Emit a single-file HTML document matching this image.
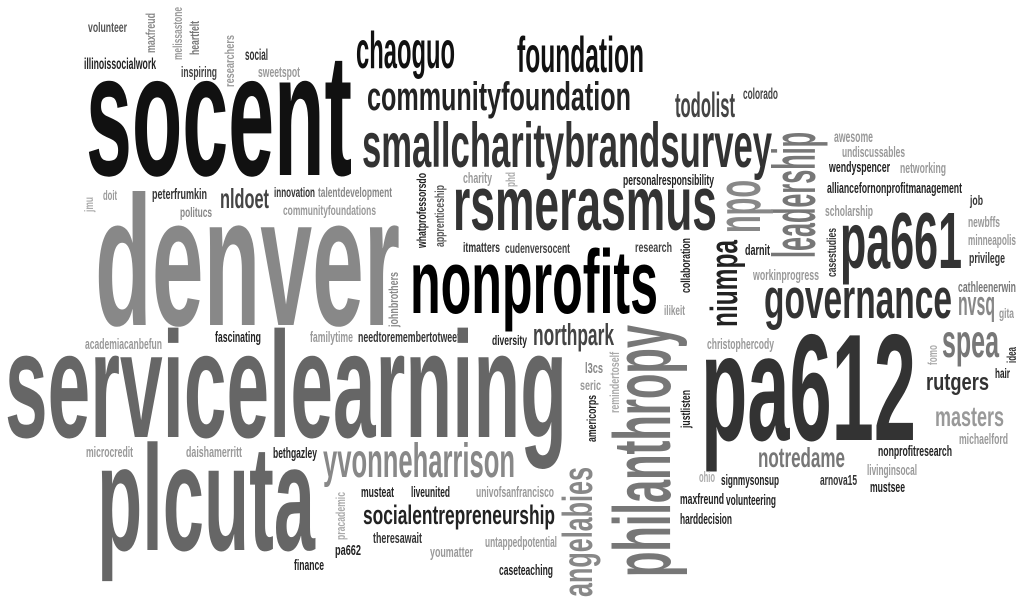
<!DOCTYPE html>
<html><head><meta charset="utf-8"><style>
html,body{margin:0;padding:0;background:#fff;width:1024px;height:607px;overflow:hidden}
svg{display:block}
text{font-family:"Liberation Sans Narrow","Liberation Sans",sans-serif;font-weight:bold}
</style></head><body>
<svg id="cloud" width="1024" height="607" viewBox="0 0 1024 607" xmlns="http://www.w3.org/2000/svg"></svg>
<script>
// word, x, baseline y (rotated: baseline x, start y), length, font size, color, rotation
const words=[
["volunteer",88,32,39,14,"#555",0],
["maxfreud",155,53,40,13,"#888",-90],
["melissastone",182,60,53,13,"#999",-90],
["heartfelt",199,55,34,13,"#777",-90],
["researchers",234,87,52,13,"#999",-90],
["social",245,60,23,16,"#333",0],
["illinoissocialwork",84,69,72,16,"#222",0],
["inspiring",181,77,36,15,"#444",0],
["sweetspot",258,77,42,15,"#999",0],
["socent",86,175,266,175,"#111",0],
["chaoguo",356,68,99,52,"#111",0],
["communityfoundation",367,110,264,40,"#222",0],
["smallcharitybrandsurvey",362,167,410,63,"#333",0],
["foundation",517,72,127,50,"#111",0],
["todolist",675,117,60,35,"#444",0],
["colorado",743,99,35,16,"#444",0],
["leadership",815,258,126,60,"#777",-90],
["npo",760,233,53,62,"#888",-90],
["jmu",93,212,15,12,"#aaa",-90],
["doit",103,200,14,14,"#999",0],
["peterfrumkin",152,199,55,15,"#333",0],
["nldoet",220,208,49,28,"#444",0],
["innovation",274,197,41,14,"#333",0],
["talentdevelopment",318,197,74,14,"#888",0],
["politucs",180,217,32,14,"#888",0],
["communityfoundations",283,215,93,14,"#999",0],
["denver",95,325,305,185,"#888",0],
["whatprofessorsdo",426,248,75,13,"#222",-90],
["apprenticeship",444,247,62,13,"#555",-90],
["charity",463,183,29,15,"#999",0],
["phd",515,187,15,13,"#aaa",-90],
["rsmerasmus",453,230,264,76,"#333",0],
["itmatters",463,252,37,14,"#333",0],
["cudenversocent",505,253,65,14,"#444",0],
["personalresponsibility",623,185,91,15,"#222",0],
["research",635,252,37,14,"#444",0],
["collaboration",690,293,55,13,"#222",-90],
["niumpa",737,327,87,38,"#222",-90],
["darnit",745,255,25,15,"#222",0],
["workinprogress",753,280,66,15,"#999",0],
["casestudies",836,277,49,13,"#333",-90],
["pa661",840,268,122,80,"#333",0],
["awesome",834,142,39,16,"#999",0],
["undiscussables",842,157,63,15,"#999",0],
["wendyspencer",829,172,61,15,"#222",0],
["networking",900,173,46,15,"#999",0],
["alliancefornonprofitmanagement",827,193,135,15,"#222",0],
["scholarship",825,216,48,15,"#999",0],
["job",970,205,13,14,"#333",0],
["newbffs",968,227,32,15,"#999",0],
["minneapolis",968,245,48,15,"#999",0],
["privilege",969,263,36,15,"#333",0],
["cathleenerwin",958,292,58,15,"#777",0],
["nvsq",958,315,37,34,"#888",0],
["gita",999,318,15,14,"#999",0],
["governance",764,318,188,57,"#333",0],
["nonprofits",410,313,248,90,"#000",0],
["pa612",701,440,215,152,"#333",0],
["ilikeit",664,315,21,14,"#999",0],
["northpark",533,345,81,31,"#444",0],
["diversity",492,345,35,14,"#222",0],
["philanthropy",670,577,252,81,"#777",-90],
["angelabies",592,597,130,42,"#888",-90],
["l3cs",585,373,18,15,"#888",0],
["seric",580,390,21,14,"#999",0],
["remindertoself",619,413,61,13,"#aaa",-90],
["americorps",596,442,47,13,"#222",-90],
["justlisten",690,428,38,13,"#222",-90],
["christophercody",707,349,67,15,"#999",0],
["spea",942,357,57,46,"#777",0],
["fomo",937,365,20,13,"#aaa",-90],
["idea",1016,363,16,13,"#333",-90],
["hair",995,378,15,14,"#222",0],
["rutgers",926,390,63,24,"#333",0],
["masters",935,426,69,28,"#999",0],
["michaelford",959,444,49,15,"#999",0],
["nonprofitresearch",878,456,74,15,"#222",0],
["notredame",758,467,87,28,"#777",0],
["livinginsocal",867,475,50,15,"#999",0],
["mustsee",870,492,35,15,"#222",0],
["arnova15",820,485,37,15,"#333",0],
["ohio",699,482,16,15,"#aaa",0],
["signmysonsup",721,485,58,15,"#222",0],
["maxfreund",680,504,44,15,"#222",0],
["volunteering",726,505,50,15,"#222",0],
["harddecision",680,524,52,15,"#222",0],
["academiacanbefun",85,349,77,15,"#999",0],
["fascinating",215,342,46,15,"#222",0],
["familytime",310,342,43,15,"#999",0],
["needtoremembertotweet",358,342,102,15,"#333",0],
["johnbrothers",398,327,55,13,"#888",-90],
["servicelearning",5,437,562,151,"#666",0],
["microcredit",86,457,47,15,"#999",0],
["daishamerritt",186,457,56,15,"#999",0],
["bethgazley",273,458,44,15,"#222",0],
["plcuta",97,550,218,150,"#666",0],
["yvonneharrison",323,477,192,48,"#888",0],
["pracademic",345,540,48,13,"#aaa",-90],
["musteat",361,497,33,15,"#222",0],
["liveunited",411,497,39,15,"#222",0],
["univofsanfrancisco",476,497,78,15,"#999",0],
["socialentrepreneurship",363,524,192,27,"#222",0],
["theresawait",373,543,49,15,"#333",0],
["pa662",335,555,26,15,"#222",0],
["youmatter",430,557,43,15,"#999",0],
["untappedpotential",485,547,72,15,"#999",0],
["finance",294,570,30,15,"#222",0],
["caseteaching",499,575,54,15,"#222",0]
];
const svg=document.getElementById('cloud');
const NS='http://www.w3.org/2000/svg';
for(const w of words){
  const t=document.createElementNS(NS,'text');
  
  
  t.textContent=w[0];
  t.setAttribute('x',0);t.setAttribute('y',0);
  t.setAttribute('font-size',w[4]);
  t.setAttribute('fill',w[5]);
  t.setAttribute('textLength',w[3]);
  t.setAttribute('lengthAdjust','spacingAndGlyphs');
  t.setAttribute('transform','translate('+w[1]+','+w[2]+')'+(w[6]?' rotate('+w[6]+')':''));
  svg.appendChild(t);
}
</script>
</body></html>
